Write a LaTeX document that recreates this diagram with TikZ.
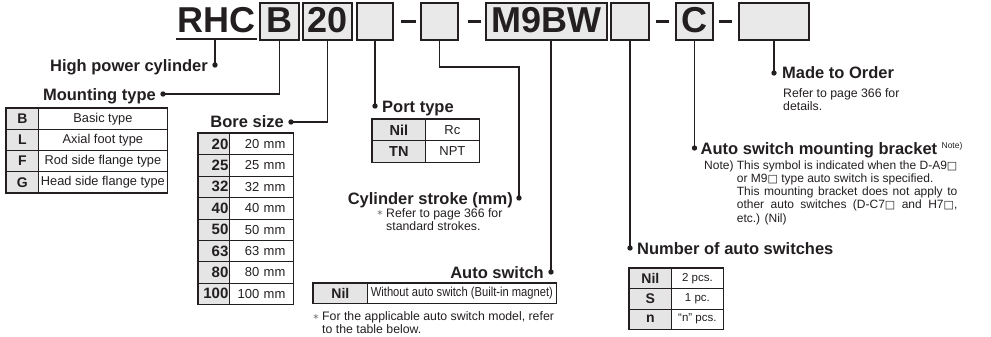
\documentclass[tikz,border=0pt]{standalone}
\usepackage{fontspec}
\setmainfont{Liberation Sans}
\newfontfamily\condfont[FakeStretch=0.86]{Liberation Sans}
\newfontfamily\symfont{DejaVu Sans}
\usetikzlibrary{calc}
\definecolor{ink}{RGB}{35,31,32}
\definecolor{boxgray}{RGB}{232,233,232}
\definecolor{cellgray}{RGB}{229,229,229}
\definecolor{stargray}{RGB}{120,120,120}
\newcommand{\wsq}{{\symfont\fontsize{11}{11}\selectfont □}}
\newlength{\notewd}
\tikzset{
  codebox/.style={draw=ink, line width=1.3pt, fill=boxgray, inner sep=0pt,
    text height=30pt, text depth=7pt, anchor=base, text=ink,
    font=\fontsize{36}{36}\selectfont\bfseries},
  codedash/.style={draw=ink, line width=2.6pt},
  leader/.style={draw=ink, line width=1.4pt},
  dotmark/.style={fill=ink},
  heading/.style={inner sep=0pt, text=ink, font=\fontsize{16.5}{18}\selectfont\bfseries},
  smalltext/.style={inner sep=0pt, text=ink, anchor=base west, font=\fontsize{12.3}{13.6}\selectfont},
  starmark/.style={inner sep=0pt, text=stargray, font=\symfont\fontsize{8}{8}\selectfont},
  keycell/.style={draw=ink, line width=0.8pt, fill=cellgray, inner sep=0pt, anchor=north west,
    text=ink, font=\fontsize{14}{14}\selectfont\bfseries},
  valcell/.style={draw=ink, line width=0.8pt, fill=white, inner sep=0pt, anchor=north west,
    text=ink, font=\fontsize{12.8}{14}\selectfont},
  tabframe/.style={draw=ink, line width=1.2pt},
}
\begin{document}
\begin{tikzpicture}[x=1pt, y=-1pt]
\useasboundingbox (0,0) rectangle (991,337);

% ---- code line ----
\node[anchor=base, inner sep=0pt, text=ink, font=\fontsize{36}{36}\selectfont\bfseries] (rhc) at (216.5,33) {RHC};
\draw[draw=ink, line width=1.6pt] ($(rhc.base west)+(-1,6)$) -- ($(rhc.base east)+(1,6)$);
\node[codebox, minimum width=39pt] (cB) at (279.5,33) {B};
\node[codebox, minimum width=49pt] (c20) at (327.5,33) {20};
\node[codebox, minimum width=36pt] (e1) at (375,33) {};
\node[codebox, minimum width=37pt] (e2) at (439.5,33) {};
\node[codebox, minimum width=121pt] (cM) at (546.5,33) {M9BW};
\node[codebox, minimum width=38pt] (e3) at (630,33) {};
\node[codebox, minimum width=37pt] (cC) at (694.5,33) {C};
\node[codebox, minimum width=70pt] (cL) at (774,33) {};
\draw[codedash] ($(e1.east)+(7,0)$) -- ($(e2.west)+(-4,0)$);
\draw[codedash] ($(e2.east)+(9,0)$) -- ($(cM.west)+(-4,0)$);
\draw[codedash] ($(e3.east)+(6,0)$) -- ($(cC.west)+(-6,0)$);
\draw[codedash] ($(cC.east)+(5,0)$) -- ($(cL.west)+(-6,0)$);

% ---- leader end points ----
\coordinate (dHPC) at (215,65);
\coordinate (dMount) at (163,94);
\coordinate (dBore) at (291,122);
\coordinate (dPort) at (375,106);
\coordinate (kCyl) at (519,67);
\coordinate (dCyl) at (519,198);
\coordinate (dAuto) at (551,272);
\coordinate (dNum) at (630,248);
\coordinate (dBr) at (694.5,148);
\coordinate (dMade) at (774,73);

\draw[leader] ($(rhc.base)+(-1.5,6)$) -- (dHPC);
\draw[leader] (cB.south) |- (dMount);
\draw[leader] (c20.south) |- (dBore);
\draw[leader] (e1.south) -- (dPort);
\draw[leader] (e2.south) |- (kCyl) -- (dCyl);
\draw[leader] (cM.south -| dAuto) -- (dAuto);
\draw[leader] (e3.south) -- (dNum);
\draw[leader] (cC.south) -- (dBr);
\draw[leader] (cL.south) -- (dMade);
\foreach \d in {dHPC,dMount,dBore,dPort,dCyl,dAuto,dNum,dBr,dMade}
  \fill[dotmark] (\d) circle[radius=2.7pt];

% ---- headings ----
\node[heading, anchor=base east] (hHPC) at ($(dHPC)+(-7,6)$) {High power cylinder};
\node[heading, anchor=base east] (hMount) at ($(dMount)+(-7,6)$) {Mounting type};
\node[heading, anchor=base east] (hBore) at ($(dBore)+(-7,6)$) {Bore size};
\node[heading, anchor=base west] (hPort) at ($(dPort)+(7,6)$) {Port type};
\node[heading, anchor=base east] (hCyl) at ($(dCyl)+(-6,6)$) {Cylinder stroke (mm)};
\node[heading, anchor=base east] (hAuto) at ($(dAuto)+(-7,6)$) {Auto switch};
\node[heading, anchor=base west] (hNum) at ($(dNum)+(7,6)$) {Number of auto switches};
\node[heading, anchor=base west] (hBr) at ($(dBr)+(6,6)$) {Auto switch mounting bracket};
\node[inner sep=0pt, anchor=base west, text=ink, font=\fontsize{8.5}{8.5}\selectfont] (hBrNote) at ($(hBr.base east)+(4,-5.5)$) {Note)};
\node[heading, anchor=base west] (hMade) at ($(dMade)+(8,6)$) {Made to Order};

% ---- small texts ----
\node[smalltext] (tMade1) at (783,97) {Refer to page 366 for};
\node[smalltext] (tMade2) at (783,110.6) {details.};
\node[starmark] (sCyl) at (380,213) {∗};
\node[smalltext] (tCyl1) at (386,217) {Refer to page 366 for};
\node[smalltext] (tCyl2) at (386,230.6) {standard strokes.};
\node[starmark] (sAuto) at (316,316.5) {∗};
\node[smalltext] (tAuto1) at (322,320.5) {For the applicable auto switch model, refer};
\node[smalltext] (tAuto2) at (322,333.5) {to the table below.};
\node[smalltext, font=\fontsize{12}{13.3}\selectfont] (tNote) at (704,169) {%
  \settowidth{\notewd}{This symbol is indicated when the D-A9\wsq}%
  \begin{tabular}[t]{@{}l@{\ }l@{}}
  Note) & This symbol is indicated when the D-A9\wsq\\
        & or M9\wsq\ type auto switch is specified.\\
        & \makebox[\notewd][s]{This mounting bracket does not apply to}\\
        & \makebox[\notewd][s]{other auto switches (D-C7\wsq\ and H7\wsq,}\\
        & etc.) (Nil)
  \end{tabular}};

% ---- Mounting type table ----
\foreach \k/\v [count=\i] in {B/Basic type, L/Axial foot type, F/Rod side flange type, G/Head side flange type}{
  \node[keycell, minimum width=32pt, minimum height=21.1pt] (mk\i) at (6,{108+21.1*(\i-1)}) {\k};
  \node[valcell, minimum width=129pt, minimum height=21.1pt] (mv\i) at (38,{108+21.1*(\i-1)}) {\v};
}
\draw[tabframe] (mk1.north west) rectangle (mv4.south east);

% ---- Bore size table ----
\foreach \k [count=\i] in {20,25,32,40,50,63,80,100}{
  \node[keycell, minimum height=21.375pt, text width=29pt, align=right, inner xsep=1pt,
        font=\fontsize{15}{15}\selectfont\bfseries] (bk\i) at (198,{133+21.375*(\i-1)}) {\k};
  \node[valcell, minimum height=21.375pt, text width=48pt, align=right, inner xsep=8pt,
        font=\fontsize{13}{14}\selectfont] (bv\i) at (229,{133+21.375*(\i-1)}) {\k\ mm};
}
\draw[tabframe] (bk1.north west) rectangle (bv8.south east);

% ---- Port type table ----
\foreach \k/\v [count=\i] in {Nil/Rc, TN/NPT}{
  \node[keycell, minimum width=53pt, minimum height=21.3pt, font=\fontsize{14.5}{15}\selectfont\bfseries] (pk\i) at (372,{119+21.3*(\i-1)}) {\k};
  \node[valcell, minimum width=54pt, minimum height=21.3pt, font=\fontsize{13}{14}\selectfont] (pv\i) at (425,{119+21.3*(\i-1)}) {\v};
}
\draw[tabframe] (pk1.north west) rectangle (pv2.south east);

% ---- Auto switch table ----
\node[keycell, minimum width=54pt, minimum height=20pt] (ak) at (313,283) {Nil};
\node[valcell, minimum width=189pt, minimum height=20pt, font=\condfont\fontsize{13}{14}\selectfont] (av) at (367,283) {Without auto switch (Built-in magnet)};
\draw[tabframe] (ak.north west) rectangle (av.south east);

% ---- Number of auto switches table ----
\foreach \k/\v [count=\i] in {Nil/2 pcs., S/1 pc., n/“n” pcs.}{
  \node[keycell, minimum width=42pt, minimum height=20.3pt] (nk\i) at (629,{268+20.3*(\i-1)}) {\k};
  \node[valcell, minimum width=52pt, minimum height=20.3pt, font=\fontsize{11.5}{13}\selectfont] (nv\i) at (671,{268+20.3*(\i-1)}) {\v};
}
\draw[tabframe] (nk1.north west) rectangle (nv3.south east);
\end{tikzpicture}
\end{document}
